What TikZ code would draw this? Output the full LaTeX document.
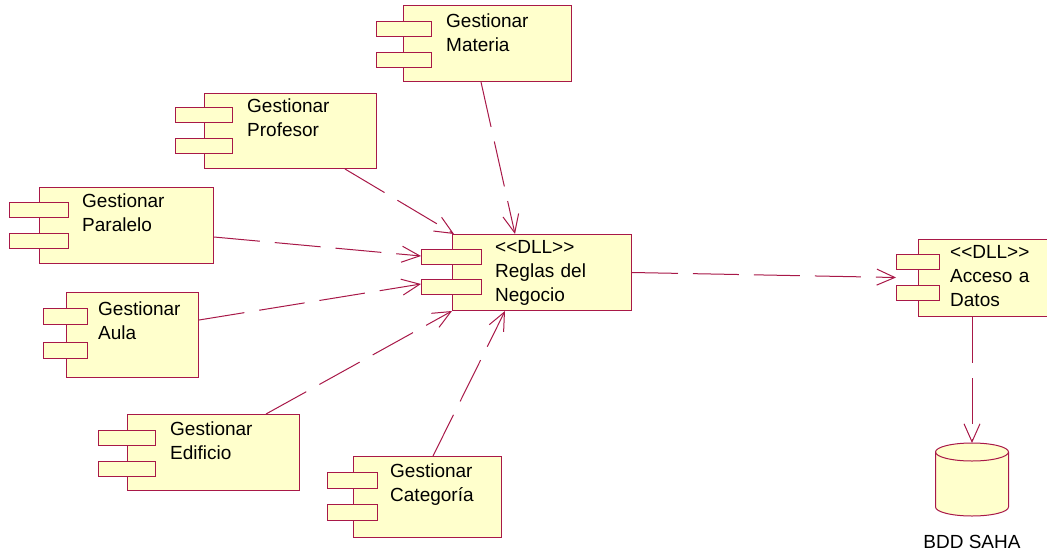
\documentclass[tikz,border=0pt]{standalone}
\usepackage{fontspec}
\setmainfont{Liberation Sans}
\usetikzlibrary{arrows.meta,calc}
\definecolor{rr}{RGB}{168,24,72}
\definecolor{ry}{RGB}{255,255,204}
\begin{document}
\begin{tikzpicture}[x=1pt,y=-1pt,
  comp/.style={draw=rr, fill=ry, line width=1pt, inner sep=0pt, anchor=north west},
  tab/.style={comp, minimum height=15pt},
  lbl/.style={anchor=base west, inner sep=0pt, text width=150pt, align=left,
    font=\fontsize{19}{24}\selectfont},
  dep/.style={draw=rr, line width=1pt, dash pattern=on 46pt off 15pt,
    -{Straight Barb[length=18pt,width=16pt,line width=1pt]}}]
\useasboundingbox (0,0) rectangle (1047,555);

% Gestionar Materia
\node[comp, minimum width=168pt, minimum height=76pt] (mat) at (403,5) {};
\node[tab, minimum width=55pt] (mat1) at (376,21) {};
\node[tab, minimum width=55pt] (mat2) at (376,52) {};
\node[lbl] (matT) at (446,27) {Gestionar\\Materia};

% Gestionar Profesor
\node[comp, minimum width=172pt, minimum height=75pt] (pro) at (204,93) {};
\node[tab, minimum width=57pt] (pro1) at (175,107) {};
\node[tab, minimum width=57pt] (pro2) at (175,138) {};
\node[lbl] (proT) at (247,112) {Gestionar\\Profesor};

% Gestionar Paralelo
\node[comp, minimum width=174pt, minimum height=76pt] (par) at (39,187) {};
\node[tab, minimum width=59pt] (par1) at (9,202) {};
\node[tab, minimum width=59pt] (par2) at (9,233) {};
\node[lbl] (parT) at (82,207) {Gestionar\\Paralelo};

% Gestionar Aula
\node[comp, minimum width=132pt, minimum height=85pt] (aula) at (66,292) {};
\node[tab, minimum width=44pt, minimum height=16pt] (aula1) at (43,308) {};
\node[tab, minimum width=44pt, minimum height=16pt] (aula2) at (43,342) {};
\node[lbl] (aulaT) at (98,315) {Gestionar\\Aula};

% Gestionar Edificio
\node[comp, minimum width=172pt, minimum height=76pt] (edi) at (127,414) {};
\node[tab, minimum width=57pt] (edi1) at (98,430) {};
\node[tab, minimum width=57pt] (edi2) at (98,461) {};
\node[lbl] (ediT) at (170,435) {Gestionar\\Edificio};

% Gestionar Categoria
\node[comp, minimum width=148pt, minimum height=81pt] (cat) at (353,456) {};
\node[tab, minimum width=50pt, minimum height=16pt] (cat1) at (327,472) {};
\node[tab, minimum width=50pt, minimum height=16pt] (cat2) at (327,504) {};
\node[lbl] (catT) at (390,477) {Gestionar\\Categoría};

% Reglas del Negocio
\node[comp, minimum width=179pt, minimum height=76pt] (reg) at (452,234) {};
\node[tab, minimum width=60pt] (reg1) at (421,249) {};
\node[tab, minimum width=60pt] (reg2) at (421,279) {};
\node[lbl] (regT) at (495,253) {<{}<DLL>{}>\\Reglas del\\Negocio};

% Acceso a Datos
\node[comp, minimum width=130pt, minimum height=77pt] (acc) at (918,239) {};
\node[tab, minimum width=43pt] (acc1) at (896,254) {};
\node[tab, minimum width=43pt] (acc2) at (896,285) {};
\node[lbl] (accT) at (950,258) {<{}<DLL>{}>\\Acceso a\\Datos};

% BDD SAHA
\filldraw[draw=rr, fill=ry, line width=1pt]
  (935.5,452) -- (935.5,507) arc[start angle=180, end angle=360, x radius=36.5pt, y radius=9pt]
  -- (1008.5,452) arc[start angle=0, end angle=180, x radius=36.5pt, y radius=9pt] -- cycle;
\draw[rr, line width=1pt] (935.5,452) arc[start angle=180, end angle=360, x radius=36.5pt, y radius=9pt];
\coordinate (db) at (972,443);
\node[anchor=base, inner sep=0pt, font=\fontsize{19}{24}\selectfont] (dbT) at (972,548) {BDD SAHA};

% dependencies
\draw[dep] ([xshift=78pt]mat.south west) -- ([xshift=63pt]reg.north west);
\draw[dep] ([xshift=141pt]pro.south west) -- ([xshift=2pt]reg.north west);
\draw[dep] ([yshift=-50pt]par.north east) -- ([yshift=1pt]reg1.west);
\draw[dep] ([yshift=-28pt]aula.north east) -- ([yshift=3pt]reg2.west);
\draw[dep] ([xshift=139pt]edi.north west) -- (reg.south west);
\draw[dep] ([xshift=80pt]cat.north west) -- ([xshift=53pt]reg.south west);
\draw[dep] (reg.east) -- ($(acc1.south west)!0.5!(acc2.north west)$);
\draw[dep] ([xshift=54pt]acc.south west) -- (db);
\end{tikzpicture}
\end{document}
